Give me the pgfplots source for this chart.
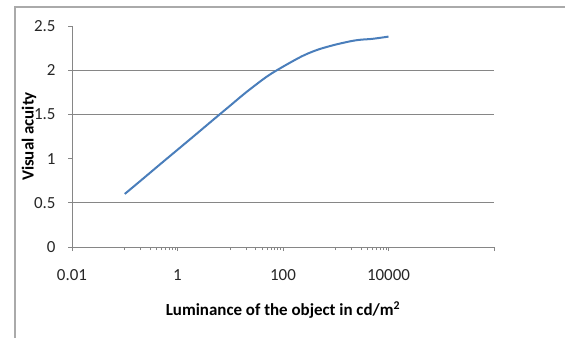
\documentclass[border=0pt]{standalone}
\usepackage{pgfplots}
\pgfplotsset{compat=1.18}
\usepackage{fontspec}
\setmainfont{Carlito}
\definecolor{excelblue}{HTML}{4A7EBB}
\definecolor{gridgray}{HTML}{868686}
\begin{document}
\begin{tikzpicture}[x=1bp,y=1bp]
\path[use as bounding box] (0,0) rectangle (565,338);
\draw[gridgray!70, line width=1.2bp] (15,0) -- (15,331) -- (565,331);
\begin{axis}[
  at={(72bp,91bp)}, anchor=south west,
  scale only axis, width=422bp, height=221bp,
  xmode=log, xmin=0.01, xmax=1e6, ymin=0, ymax=2.5,
  axis x line=bottom, axis y line=left,
  axis line style={-, draw=gridgray, line width=0.9bp},
  tick align=outside,
  major tick length=4bp, minor tick length=3bp,
  tick style={draw=gridgray, line width=0.8bp},
  xtick={0.01,1,100,10000,1000000},
  xticklabels={0.01,1,100,10000,},
  minor xtick={0.1,0.2,0.3,0.4,0.5,0.6,0.7,0.8,0.9,10,20,30,40,50,60,70,80,90,1000,2000,3000,4000,5000,6000,7000,8000,9000},
  ytick={0,0.5,1,1.5,2,2.5},
  yticklabels={0,0.5,1,1.5,2,2.5},
  extra y ticks={0.5,1.5,2},
  extra y tick labels={},
  extra y tick style={grid=major, major grid style={draw=gridgray, line width=0.9bp}},
  ticklabel style={font=\fontsize{17}{19}\selectfont, text=black!85},
  xticklabel style={yshift=-15bp},
  yticklabel style={xshift=-9bp},
  xlabel={Luminance of the object in cd/m\textsuperscript{2}},
  ylabel={Visual acuity},
  xlabel style={font=\fontsize{17}{20}\selectfont\bfseries, at={(axis description cs:0.5,-0.285)}, anchor=center},
  ylabel style={font=\fontsize{17}{20}\selectfont\bfseries, at={(axis description cs:-0.102,0.5)}, anchor=center},
  clip=false,
]
\addplot[excelblue, line width=2bp, smooth, tension=0.5] coordinates {
(0.1,0.60) (0.2,0.75) (0.5,0.95) (1,1.10) (2,1.25) (5,1.45) (10,1.60)
(20,1.75) (50,1.93) (100,2.04) (200,2.14) (300,2.19) (500,2.24)
(1000,2.29) (2000,2.33) (3000,2.345) (5000,2.355) (10000,2.38)
};
\end{axis}
\end{tikzpicture}
\end{document}
